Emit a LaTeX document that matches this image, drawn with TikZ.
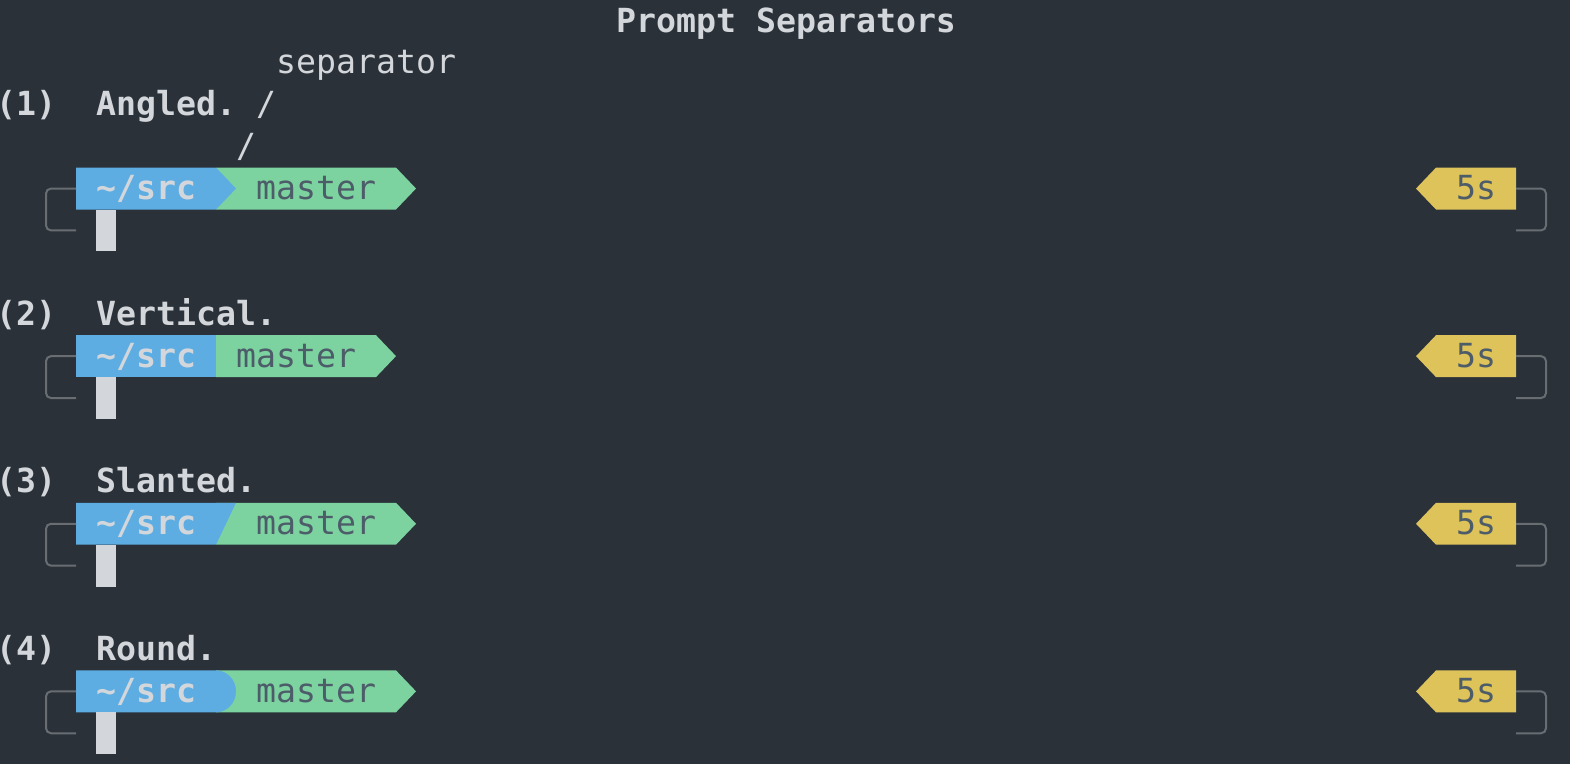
\documentclass[tikz,border=0pt]{standalone}
\usepackage{fontspec}
\setmonofont{DejaVu Sans Mono}
\usepackage{tikz}
\usetikzlibrary{positioning}

\definecolor{termbg}{HTML}{2A3139}
\definecolor{termfg}{HTML}{D3D7DB}
\definecolor{dirblue}{HTML}{5DADE2}
\definecolor{gitgreen}{HTML}{7DD3A0}
\definecolor{timeyellow}{HTML}{DEC35A}
\definecolor{darkfg}{HTML}{4D5C69}
\definecolor{hookgray}{HTML}{686D72}

\tikzset{
  term/.style={inner sep=0pt, anchor=base west, text=termfg,
    font=\ttfamily\fontsize{33.2}{40}\selectfont},
  termbf/.style={term, font=\ttfamily\bfseries\fontsize{33.2}{40}\selectfont},
  ontile/.style={term, text=darkfg},
  hook/.style={draw=hookgray, line width=2pt, rounded corners=5pt},
}

\begin{document}
\begin{tikzpicture}[x=20pt, y=-41.9pt]

  \newcommand\B{0.764} % baseline inside a row

  \fill[termbg] (0.2,0) rectangle (78.7,18.23);
  \useasboundingbox (0.2,0) rectangle (78.7,18.23);

  %% cursor, frame hooks and the right hand time segment of one prompt
  \newcommand\Parts[1]{%
    \fill[termfg] (5,#1+1) rectangle (6,#1+2);
    \draw[hook] (4,#1+0.5) -| (2.5,#1+1.5) -- (4,#1+1.5);
    \fill[timeyellow] (72,#1) -- (71,#1+0.5) -- (72,#1+1) -- (76,#1+1) -- (76,#1) -- cycle;
    \node[ontile] (time#1) at (73,#1+\B) {5s};
    \draw[hook] (76,#1+0.5) -| (77.5,#1+1.5) -- (76,#1+1.5);
  }

  \node[termbf] (title) at (31,\B) {Prompt Separators};

  %% (1) angled
  \node[term] (sepnote) at (14,1+\B) {separator};
  \node[termbf] (num1) at (0,2+\B) {(1)};
  \node[termbf] (name1) at (5,2+\B) {Angled.};
  \node[term] (slashA) at (13,2+\B) {/};
  \node[term] (slashB) at (12,3+\B) {/};

  \fill[gitgreen] (11,4) -- (20,4) -- (21,4.5) -- (20,5) -- (11,5) -- cycle;
  \fill[dirblue] (4,4) -- (11,4) -- (12,4.5) -- (11,5) -- (4,5) -- cycle;
  \node[termbf] (dir4) at (5,4+\B) {\textasciitilde/src};
  \node[ontile] (git4) at (13,4+\B) {master};
  \Parts{4}

  %% (2) vertical
  \node[termbf] (num2) at (0,7+\B) {(2)};
  \node[termbf] (name2) at (5,7+\B) {Vertical.};

  \fill[gitgreen] (11,8) -- (19,8) -- (20,8.5) -- (19,9) -- (11,9) -- cycle;
  \fill[dirblue] (4,8) rectangle (11,9);
  \node[termbf] (dir8) at (5,8+\B) {\textasciitilde/src};
  \node[ontile] (git8) at (12,8+\B) {master};
  \Parts{8}

  %% (3) slanted
  \node[termbf] (num3) at (0,11+\B) {(3)};
  \node[termbf] (name3) at (5,11+\B) {Slanted.};

  \fill[gitgreen] (11,12) -- (20,12) -- (21,12.5) -- (20,13) -- (11,13) -- cycle;
  \fill[dirblue] (4,12) -- (12,12) -- (11,13) -- (4,13) -- cycle;
  \node[termbf] (dir12) at (5,12+\B) {\textasciitilde/src};
  \node[ontile] (git12) at (13,12+\B) {master};
  \Parts{12}

  %% (4) round
  \node[termbf] (num4) at (0,15+\B) {(4)};
  \node[termbf] (name4) at (5,15+\B) {Round.};

  \fill[gitgreen] (11,16) -- (20,16) -- (21,16.5) -- (20,17) -- (11,17) -- cycle;
  \fill[dirblue] (4,16) -- (11,16) arc[start angle=90, end angle=-90, x radius=20pt, y radius=20.95pt] -- (4,17) -- cycle;
  \node[termbf] (dir16) at (5,16+\B) {\textasciitilde/src};
  \node[ontile] (git16) at (13,16+\B) {master};
  \Parts{16}

\end{tikzpicture}
\end{document}
